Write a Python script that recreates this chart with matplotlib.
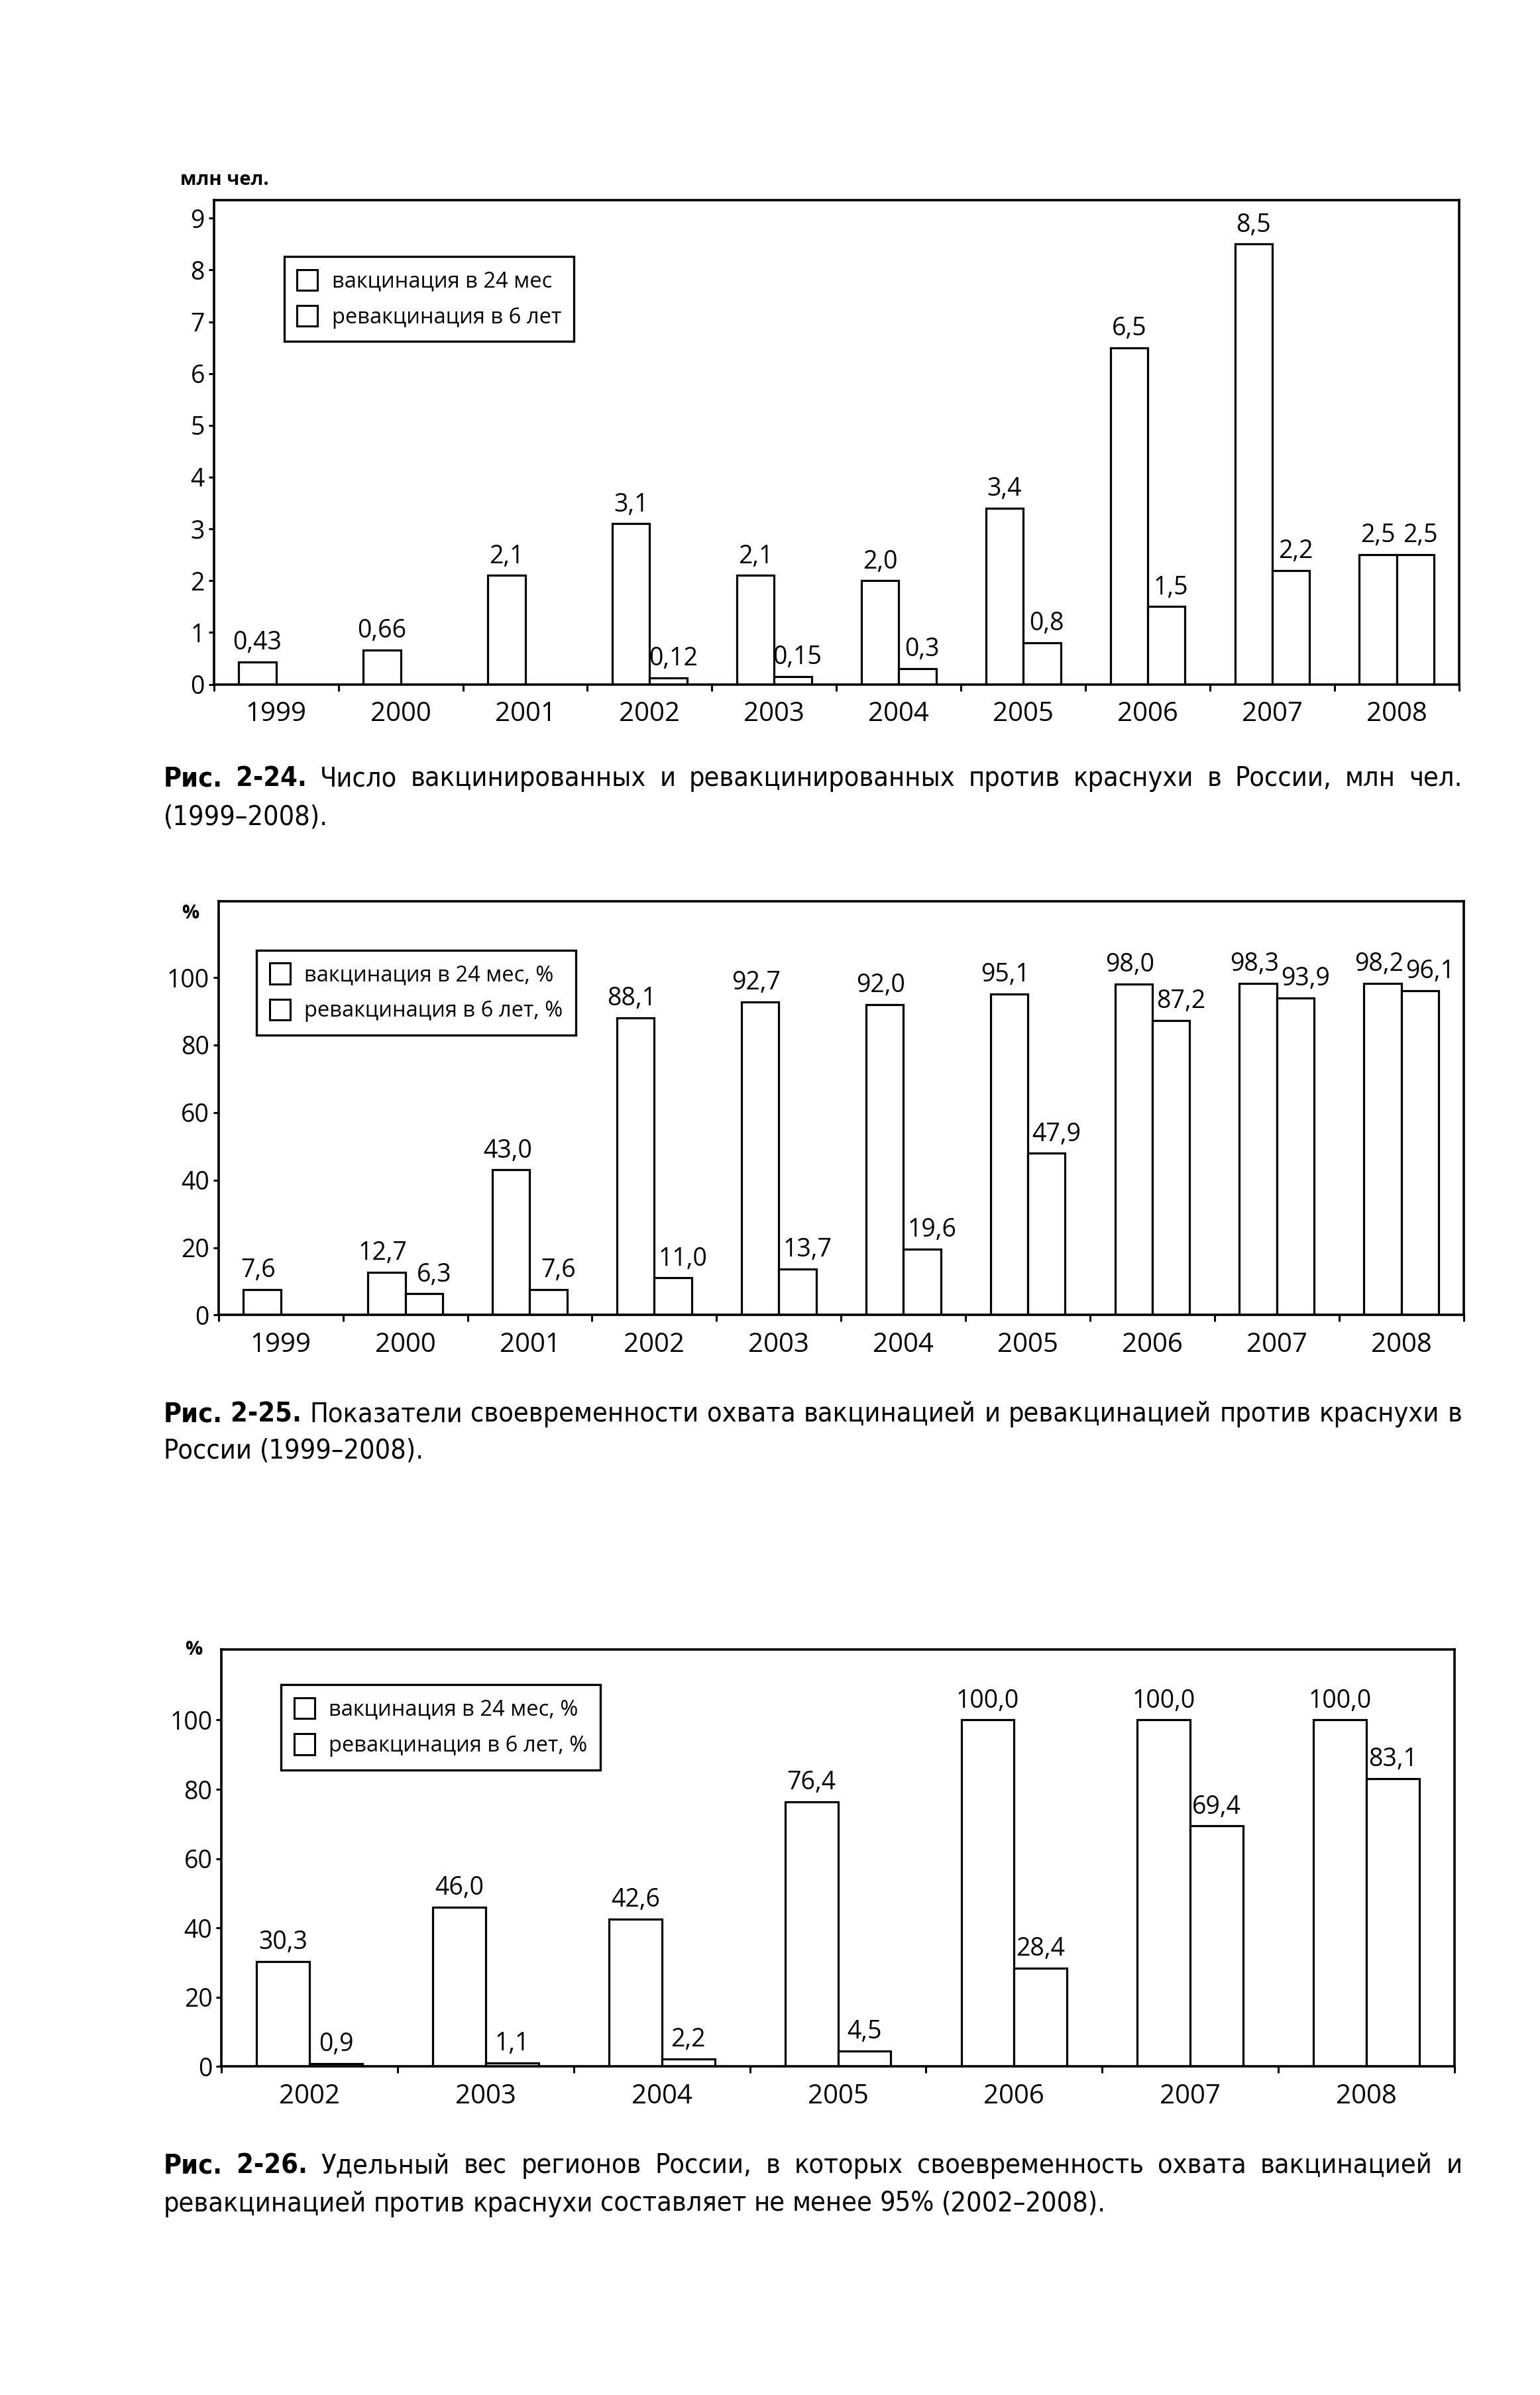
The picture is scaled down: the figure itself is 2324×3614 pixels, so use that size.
import matplotlib
matplotlib.use('Agg')
import numpy as np
from matplotlib import pyplot as plt
from matplotlib import font_manager
from matplotlib.patches import Patch

plt.rcParams['font.family'] = ['Open Sans', 'DejaVu Sans']

# pick a narrow face for the captions if one is installed
fonts = font_manager.fontManager.ttflist
names = {f.name for f in fonts}
if 'Liberation Sans Narrow' in names:
    CAP_FONT, CAP_STRETCH = ['Liberation Sans Narrow', 'DejaVu Sans'], 'normal'
elif any(f.name == 'DejaVu Sans' and f.stretch == 'condensed' for f in fonts):
    CAP_FONT, CAP_STRETCH = ['DejaVu Sans'], 'condensed'
else:
    CAP_FONT, CAP_STRETCH = ['Roboto', 'DejaVu Sans'], 'normal'

# --- data ---
years1 = ['1999', '2000', '2001', '2002', '2003', '2004', '2005', '2006', '2007', '2008']
vac1 = [0.43, 0.66, 2.1, 3.1, 2.1, 2.0, 3.4, 6.5, 8.5, 2.5]
revac1 = [np.nan, np.nan, np.nan, 0.12, 0.15, 0.3, 0.8, 1.5, 2.2, 2.5]

years2 = years1
vac2 = [7.6, 12.7, 43.0, 88.1, 92.7, 92.0, 95.1, 98.0, 98.3, 98.2]
revac2 = [np.nan, 6.3, 7.6, 11.0, 13.7, 19.6, 47.9, 87.2, 93.9, 96.1]

years3 = ['2002', '2003', '2004', '2005', '2006', '2007', '2008']
vac3 = [30.3, 46.0, 42.6, 76.4, 100.0, 100.0, 100.0]
revac3 = [0.9, 1.1, 2.2, 4.5, 28.4, 69.4, 83.1]

legend1 = ['вакцинация в 24 мес', 'ревакцинация в 6 лет']
legend2 = ['вакцинация в 24 мес, %', 'ревакцинация в 6 лет, %']

cap1 = ['Рис. 2-24. Число вакцинированных и ревакцинированных против краснухи в России, млн чел.',
        '(1999–2008).']
cap2 = ['Рис. 2-25. Показатели своевременности охвата вакцинацией и ревакцинацией против краснухи в',
        'России (1999–2008).']
cap3 = ['Рис. 2-26. Удельный вес регионов России, в которых своевременность охвата вакцинацией и',
        'ревакцинацией против краснухи составляет не менее 95% (2002–2008).']

W0, H0 = 1008.0, 1568.0  # layout measured on the shrunk page

fig = plt.figure(figsize=(23.24, 36.14), dpi=100)
fig.patch.set_facecolor('white')


def fmt(v):
    if abs(v * 10 - round(v * 10)) > 1e-6:
        s = '%.2f' % v
    else:
        s = '%.1f' % v
    return s.replace('.', ',')


def chart(box, cats, vac, revac, ymax, yticks, unit, unit_xy, labels, leg_xy, shift1, shift2):
    l, t, r, b = box
    ax = fig.add_axes([l / W0, 1 - b / H0, (r - l) / W0, (b - t) / H0])
    x = np.arange(len(cats))
    w = 0.3
    ax.bar(x - w / 2, vac, w, color='white', edgecolor='black', linewidth=2.3)
    ax.bar(x + w / 2, revac, w, color='white', edgecolor='black', linewidth=2.3)
    ax.set_xlim(-0.5, len(cats) - 0.5)
    ax.set_ylim(0, ymax)
    ax.set_yticks(yticks)
    ax.set_xticks(x)
    ax.set_xticklabels(cats, fontsize=29)
    ax.set_xticks(np.arange(len(cats) + 1) - 0.5, minor=True)
    ax.tick_params(axis='x', which='major', length=0, pad=18)
    ax.tick_params(axis='x', which='minor', length=7, width=2.2, direction='out')
    ax.tick_params(axis='y', length=6, width=2.2, direction='out', pad=4, labelsize=27)
    for s in ax.spines.values():
        s.set_linewidth(2.6)
    for xi, v in zip(x, vac):
        if not np.isnan(v):
            ax.annotate(fmt(v), (xi - w / 2, v), xytext=(shift1, 7), textcoords='offset points',
                        ha='center', va='bottom', fontsize=27)
    for xi, v in zip(x, revac):
        if not np.isnan(v):
            ax.annotate(fmt(v), (xi + w / 2, v), xytext=(shift2, 7), textcoords='offset points',
                        ha='center', va='bottom', fontsize=27)
    handles = [Patch(facecolor='white', edgecolor='black', linewidth=2.2, label=lb) for lb in labels]
    leg = ax.legend(handles=handles, loc='upper left', bbox_to_anchor=leg_xy, frameon=True,
                    fancybox=False, edgecolor='black', framealpha=1, borderaxespad=0,
                    handlelength=0.95, handleheight=1.1, handletextpad=0.65, borderpad=0.6,
                    labelspacing=0.6, fontsize=23.5)
    leg.get_frame().set_linewidth(2.4)
    fig.text(unit_xy[0] / W0, 1 - unit_xy[1] / H0, unit, fontsize=21, fontweight='bold',
             ha='left', va='center')
    return ax


def word_texts(line, y, size, first):
    out = []
    for j, wd in enumerate(line.split(' ')):
        bold = first and j < 2
        out.append(fig.text(0, 1 - y / H0, wd, fontsize=size, family=CAP_FONT,
                            fontstretch=CAP_STRETCH, fontweight='bold' if bold else 'normal',
                            va='center', ha='left'))
    return out


def caption(lines, ys, size, x0=107, x1=957):
    renderer = fig.canvas.get_renderer()
    Wpx = fig.bbox.width
    for i, (line, y) in enumerate(zip(lines, ys)):
        texts = word_texts(line, y, size, i == 0)
        widths = [tx.get_window_extent(renderer).width for tx in texts]
        left = x0 / W0 * Wpx
        right = x1 / W0 * Wpx
        if i < len(lines) - 1 and len(texts) > 1:
            gap = (right - left - sum(widths)) / (len(texts) - 1)
        else:
            gap = 0.27 * size * 100 / 72
        pos = left
        for tx, wd in zip(texts, widths):
            tx.set_x(pos / Wpx)
            pos += wd + gap


def fit_size(lines_list, x0=107, x1=957, start=33):
    # largest size (up to start) at which every first caption line fits with normal spaces
    renderer = fig.canvas.get_renderer()
    span = (x1 - x0) / W0 * fig.bbox.width
    size = start
    for lines in lines_list:
        texts = word_texts(lines[0], 0, start, True)
        need = sum(tx.get_window_extent(renderer).width for tx in texts)
        need += (len(texts) - 1) * 0.3 * start * 100 / 72
        for tx in texts:
            tx.remove()
        size = min(size, start * span / need)
    return size


chart((140, 131, 955, 448), years1, vac1, revac1, 9.35, range(0, 10), 'млн чел.', (118, 118),
      legend1, ((186 - 140) / 815, (448 - 168) / 317), 0, 5)
chart((143, 590, 958, 861), years2, vac2, revac2, 122.6, range(0, 101, 20), '%', (119, 598),
      legend2, ((168 - 143) / 815, (861 - 622) / 271), -4, 11)
chart((145, 1080, 952, 1353), years3, vac3, revac3, 120.3, range(0, 101, 20), '%', (121, 1080),
      legend2, ((184 - 145) / 807, (1353 - 1103) / 273), 0, 0)

fig.canvas.draw()
cs = fit_size([cap1, cap2, cap3])
caption(cap1, (510, 535), cs)
caption(cap2, (926, 950), cs)
caption(cap3, (1418, 1443), cs)

fig.savefig('out.png', dpi=100, facecolor='white')
